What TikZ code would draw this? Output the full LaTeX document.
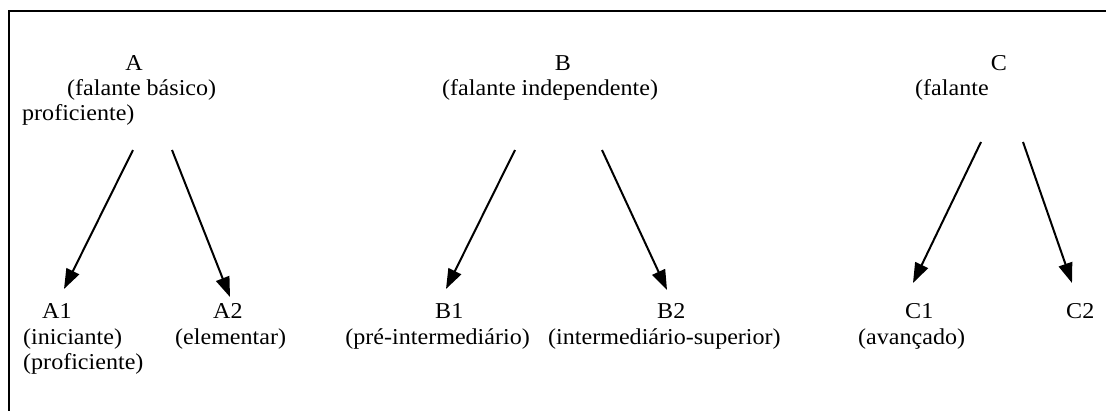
\documentclass[tikz,border=0pt]{standalone}
\usepackage{fontspec}
\setmainfont{Liberation Serif}[FakeStretch=1.06]
\usetikzlibrary{arrows.meta}
\begin{document}
\begin{tikzpicture}[x=1pt,y=-1pt,
  lbl/.style={anchor=base west,inner sep=0pt,font=\fontsize{22.7}{25}\selectfont},
  lble/.style={lbl,anchor=base east},
  lblc/.style={lbl,anchor=base},
  arr/.style={line width=2pt,-{Triangle[length=20pt,width=14pt]}},
  frame/.style={line width=2.7pt}]
\useasboundingbox (0,0) rectangle (1106,410);
% frame
\coordinate (f1) at (9,412);
\coordinate (f2) at (9,11);
\coordinate (f3) at (1108,11);
\draw[frame] (f1) -- (f2) -- (f3);
% top labels
\node[lblc] (A) at (134,70) {A};
\node[lbl] (Aa) at (67,95) {(falante básico)};
\node[lbl] (Ab) at (22,120) {proficiente)};
\node[lblc] (B) at (563,70) {B};
\node[lbl] (Ba) at (442,95) {(falante independente)};
\node[lblc] (C) at (999,70) {C};
\node[lbl] (Ca) at (915,95) {(falante};
% bottom labels
\node[lbl] (A1) at (42,318) {A1};
\node[lbl] (A1a) at (23,344) {(iniciante)};
\node[lbl] (A1b) at (23,369) {(proficiente)};
\node[lbl] (A2) at (213,318) {A2};
\node[lbl] (A2a) at (175,344) {(elementar)};
\node[lbl] (B1) at (435,318) {B1};
\node[lble] (B1a) at (530,344) {(pré-intermediário)};
\node[lbl] (B2) at (657,318) {B2};
\node[lbl] (B2a) at (548,344) {(intermediário-superior)};
\node[lbl] (C1) at (905,318) {C1};
\node[lbl] (C1a) at (858,344) {(avançado)};
\node[lbl] (C2) at (1066,318) {C2};
% arrow ends
\coordinate (as1) at (133,150); \coordinate (ae1) at (64,289);
\coordinate (as2) at (172,150); \coordinate (ae2) at (230,297);
\coordinate (bs1) at (515,150); \coordinate (be1) at (446,289);
\coordinate (bs2) at (602,150); \coordinate (be2) at (667,290);
\coordinate (cs1) at (981,142); \coordinate (ce1) at (913,283);
\coordinate (cs2) at (1023,142); \coordinate (ce2) at (1072,283);
\draw[arr] (as1) -- (ae1);
\draw[arr] (as2) -- (ae2);
\draw[arr] (bs1) -- (be1);
\draw[arr] (bs2) -- (be2);
\draw[arr] (cs1) -- (ce1);
\draw[arr] (cs2) -- (ce2);
\end{tikzpicture}
\end{document}
